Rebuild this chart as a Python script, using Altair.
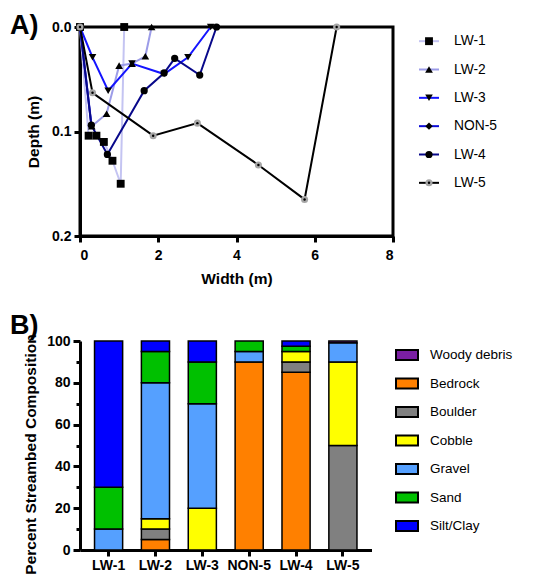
import altair as alt
import pandas as pd

FONT = "Liberation Sans"

# ---------------- Panel A data ----------------
series = ["LW-1", "LW-2", "LW-3", "NON-5", "LW-4", "LW-5"]
lw1_w = [0, 0.22, 0.42, 0.61, 0.83, 1.04, 1.13]
lw1_d = [0, 0.104, 0.104, 0.110, 0.128, 0.150, 0]
lw2_w = [0, 0.30, 0.68, 1.00, 1.33, 1.67, 1.83]
lw2_d = [0, 0.095, 0.083, 0.037, 0.035, 0.028, 0]
lw3_w = [0, 0.32, 0.72, 1.33, 2.15, 2.76, 3.34]
lw3_d = [0, 0.029, 0.061, 0.035, 0.045, 0.029, 0]
non5_w = [0, 0.29]
non5_d = [0, 0.094]
lw4_w = [0, 0.29, 0.70, 1.64, 2.15, 2.42, 3.06, 3.49]
lw4_d = [0, 0.094, 0.122, 0.061, 0.044, 0.030, 0.046, 0]
lw5_w = [0, 0.32, 1.87, 3.00, 4.56, 5.74, 6.56]
lw5_d = [0, 0.063, 0.104, 0.092, 0.132, 0.165, 0]

line_colors = ["#c4c4f2", "#9c9ce8", "#1414ff", "#0c0cd8", "#08088a", "#000000"]
shapes = ["square", "triangle-up", "triangle-down", "diamond", "circle", "circle"]
sizes = [62, 50, 50, 16, 48, 64]
fills = ["black", "black", "black", "black", "black", "#a6a6a6"]

rows = []
for name, ws, ds in zip(series, [lw1_w, lw2_w, lw3_w, non5_w, lw4_w, lw5_w],
                        [lw1_d, lw2_d, lw3_d, non5_d, lw4_d, lw5_d]):
    for i, (w, d) in enumerate(zip(ws, ds)):
        rows.append({"series": name, "idx": i, "width": w, "depth": d})
dfA = pd.DataFrame(rows)

# ---------------- Panel B data ----------------
sites = ["LW-1", "LW-2", "LW-3", "NON-5", "LW-4", "LW-5"]
materials = ["Woody debris", "Bedrock", "Boulder", "Cobble", "Gravel", "Sand", "Silt/Clay"]
mat_colors = ["#7a1fa2", "#ff8000", "#808080", "#ffff00", "#55a0ff", "#00c000", "#0000ff"]
stack_rank = [6, 0, 1, 2, 3, 4, 5]
woody = [0, 0, 0, 0, 0, 1]
bedrock = [0, 5, 0, 90, 85, 0]
boulder = [0, 5, 0, 0, 5, 50]
cobble = [0, 5, 20, 0, 5, 40]
gravel = [10, 65, 50, 5, 0, 9]
sand = [20, 15, 20, 5, 2.5, 0]
silt = [70, 5, 10, 0, 2.5, 0]

rowsB = []
for m, rank, vals in zip(materials, stack_rank, [woody, bedrock, boulder, cobble, gravel, sand, silt]):
    for s, v in zip(sites, vals):
        rowsB.append({"site": s, "material": m, "rank": rank, "value": v})
dfB = pd.DataFrame(rowsB)

axis_common = dict(
    domainWidth=3, domainColor="black", tickWidth=3, tickColor="black", tickSize=6,
    labelFont=FONT, labelFontWeight="bold", labelFontSize=14, labelColor="black",
    titleFont=FONT, titleFontWeight="bold", titleFontSize=15.5, titleColor="black",
    grid=False,
)

color_A = alt.Color("series:N", scale=alt.Scale(domain=series, range=line_colors), legend=None)
shape_A = alt.Shape("series:N", scale=alt.Scale(domain=series, range=shapes), legend=None)
size_A = alt.Size("series:N", scale=alt.Scale(domain=series, range=sizes), legend=None)
fill_A = alt.Fill("series:N", scale=alt.Scale(domain=series, range=fills), legend=None)

xA = alt.X("width:Q", title="Width (m)",
           scale=alt.Scale(domain=[0, 8], nice=False),
           axis=alt.Axis(values=[0, 2, 4, 6, 8], labelPadding=6, titlePadding=9, **axis_common))
yA = alt.Y("depth:Q", title="Depth (m)",
           scale=alt.Scale(domain=[0, 0.2], reverse=True, nice=False),
           axis=alt.Axis(values=[0, 0.1, 0.2], format=".1f", labelPadding=3, titlePadding=10, **axis_common))

baseA = alt.Chart(dfA)
linesA = baseA.mark_line(strokeWidth=2).encode(x=xA, y=yA, color=color_A, detail="series:N", order="idx:Q")
pointsA = baseA.mark_point(filled=True, opacity=1, strokeWidth=0).encode(
    x=xA, y=yA, shape=shape_A, size=size_A, fill=fill_A)
dotsA = baseA.transform_filter(alt.datum.series == "LW-5").mark_point(
    filled=True, opacity=1, size=6, color="black").encode(x=xA, y=yA)
labelA = alt.Chart(pd.DataFrame({"t": ["A)"]})).mark_text(
    font=FONT, fontSize=27, fontWeight="bold", align="left", baseline="middle", color="black"
).encode(text="t:N", x=alt.value(-70), y=alt.value(-1))

chartA = alt.layer(linesA, pointsA, dotsA, labelA).properties(
    width=313, height=209, view=alt.ViewBackground(stroke="black", strokeWidth=3))

# custom legend for panel A
legA_df = pd.DataFrame({"series": series})
yLeg = alt.Y("series:N", sort=series, axis=None, scale=alt.Scale(type="point", padding=0.5))
legA_rule = alt.Chart(legA_df).mark_rule(strokeWidth=2).encode(
    y=yLeg, x=alt.value(1), x2=alt.value(21), color=color_A)
legA_pts = alt.Chart(legA_df).mark_point(filled=True, opacity=1, strokeWidth=0).encode(
    y=yLeg, x=alt.value(11), shape=shape_A, size=size_A, fill=fill_A)
legA_dot = alt.Chart(legA_df).transform_filter(alt.datum.series == "LW-5").mark_point(
    filled=True, opacity=1, size=6, color="black").encode(y=yLeg, x=alt.value(11))
legA_txt = alt.Chart(legA_df).mark_text(
    font=FONT, fontSize=13.8, align="left", baseline="middle", color="black"
).encode(y=yLeg, x=alt.value(36), text="series:N")
legendA = alt.layer(legA_rule, legA_pts, legA_dot, legA_txt).properties(
    width=110, height=170, view=alt.ViewBackground(stroke=None))

rowA = alt.hconcat(chartA, legendA, spacing=25, bounds="flush")

# ---------------- Panel B chart ----------------
sym_path = "M-1,-0.45H1V0.45H-1Z"
axis_B = {k: v for k, v in axis_common.items() if k not in ("tickSize", "titleFontSize")}
bars = alt.Chart(dfB).transform_filter(alt.datum.value > 0).mark_bar(
    stroke="black", strokeWidth=1.5, opacity=1).encode(
    x=alt.X("site:N", sort=sites, title=None,
            scale=alt.Scale(paddingInner=0.4, paddingOuter=0.31),
            axis=alt.Axis(labelAngle=0, labelPadding=2, tickSize=6, titleFontSize=16, **axis_B)),
    y=alt.Y("value:Q", title="Percent Streambed Composition", stack="zero",
            scale=alt.Scale(domain=[0, 100], nice=False),
            axis=alt.Axis(values=list(range(0, 101, 10)),
                          labelExpr="datum.value % 20 === 0 ? datum.label : ''",
                          labelPadding=3, titlePadding=8, titleFontSize=15.5, titleLimit=320,
                          titleY=113,
                          tickSize={"condition": {"test": "datum.value % 20 === 0", "value": 7}, "value": 4},
                          **axis_B)),
    color=alt.Color("material:N", scale=alt.Scale(domain=materials, range=mat_colors),
                    legend=alt.Legend(title=None, orient="none", legendX=315, legendY=2,
                                      symbolType=sym_path, symbolSize=484,
                                      symbolStrokeColor="black", symbolStrokeWidth=2,
                                      symbolOpacity=1,
                                      labelFont=FONT, labelFontSize=13.5, labelColor="black",
                                      labelOffset=11, rowPadding=7.5, padding=0)),
    order=alt.Order("rank:Q", sort="ascending"),
)
labelB = alt.Chart(pd.DataFrame({"t": ["B)"]})).mark_text(
    font=FONT, fontSize=27, fontWeight="bold", align="left", baseline="middle", color="black"
).encode(text="t:N", x=alt.value(-70), y=alt.value(-15))

chartB = alt.layer(bars, labelB).properties(
    width=291.5, height=209, view=alt.ViewBackground(stroke=None))

chart = alt.vconcat(rowA, chartB, spacing=24).resolve_scale(
    color="independent", shape="independent", size="independent", fill="independent"
).configure(font=FONT, padding={"left": 0, "top": 2, "right": 2, "bottom": 2}).configure_view(strokeWidth=0)

chart.save("out.html", embed_options={"renderer": "svg", "actions": False})
